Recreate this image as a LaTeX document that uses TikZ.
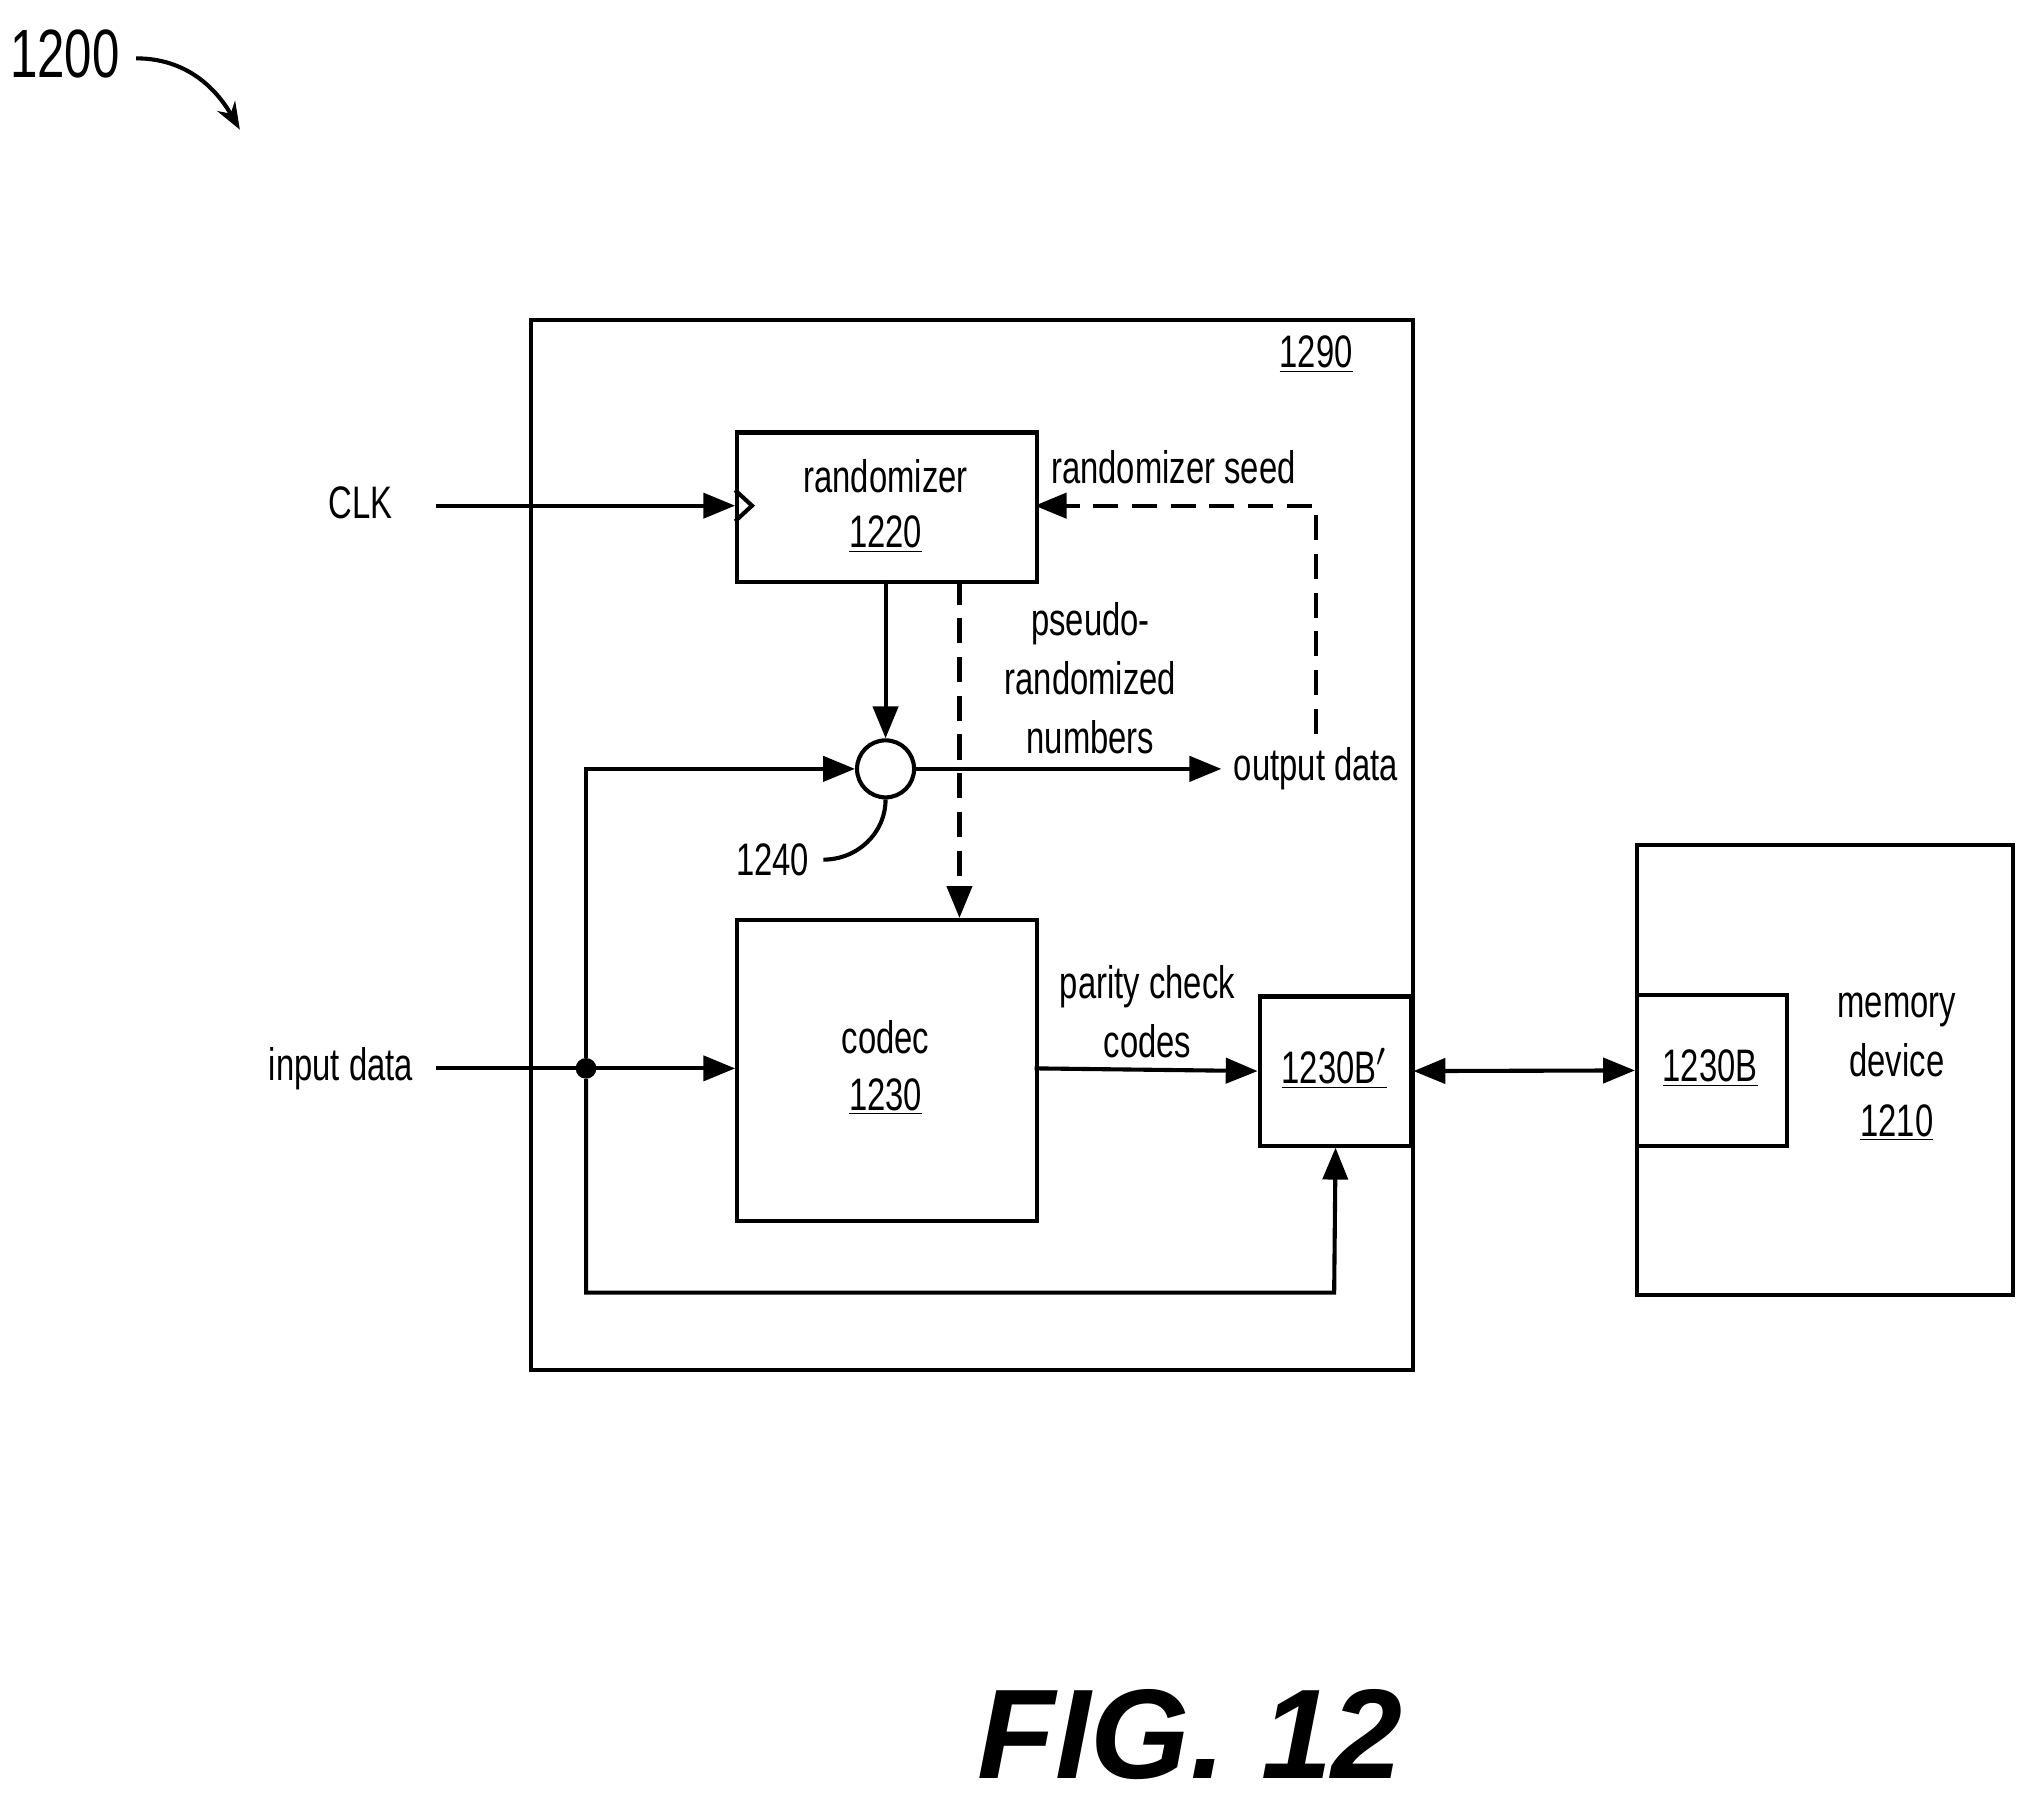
\documentclass[tikz,border=0pt]{standalone}
\usepackage{fontspec}
\setmainfont{Liberation Sans}[FakeStretch=0.72]
\newfontfamily\figfont{Liberation Sans}
\usetikzlibrary{arrows.meta}
\begin{document}
\begin{tikzpicture}[x=0.02cm,y=-0.02cm,
  lbl/.style={font=\fontsize{20}{24}\selectfont,inner sep=0pt,align=center},
  box/.style={draw,line width=1.8pt},
  ln/.style={line width=1.8pt},
  arr/.style={ln,-{Triangle[length=14pt,width=11pt]}},
  dsh/.style={ln,dash pattern=on 11pt off 6pt}]
\useasboundingbox (0,0) rectangle (1568,1390);
\node[lbl,font=\fontsize{30}{34}\selectfont] (n1200) at (50,42) {1200};
\coordinate (c1200) at (185,100);
\draw[ln,-{Stealth[length=12pt]}] (105,45) to[out=0,in=120] (c1200);
\node[box,minimum width=680*0.02cm,minimum height=810*0.02cm,anchor=north west] (outer) at (408,245) {};
\node[lbl] (l1290) at (1015,273) {\underline{1290}};
\node[box,minimum width=231*0.02cm,minimum height=115*0.02cm,anchor=north west] (rand) at (567,332) {};
\node[lbl] (trand) at (683,367) {randomizer};
\node[lbl] (t1220) at (683,412) {\underline{1220}};
\draw[ln] (567,378) -- (580,390) -- (567,402);
\node[lbl] (clk) at (278,388) {CLK};
\coordinate (clkS) at (336,390);
\draw[arr] (clkS) -- (567,390);
\node[lbl] (seed) at (905,360) {randomizer seed};
\node[lbl] (out) at (1015,593) {output data};
\draw[dsh] (1015,566) -- (1015,390) -- (812,390);
\draw[arr] (820,390) -- (798,390);
\node[draw,circle,line width=1.8pt,minimum size=44*0.02cm,inner sep=0pt] (xor) at (683,593) {};
\draw[arr] (683,447) -- (xor.north);
\node[box,minimum width=231*0.02cm,minimum height=232*0.02cm,anchor=north west] (codec) at (567,708) {};
\draw[dsh] (740,447) -- (740,690);
\draw[arr] (740,685) -- (740,708);
\node[lbl] (pr) at (841,523) {pseudo-\\[2pt]randomized\\[2pt]numbers};
\node[fill,circle,inner sep=0pt,minimum size=16*0.02cm] (dot) at (452,824) {};
\draw[arr] (dot) -- (452,593) -- (xor.west);
\draw[arr] (xor.east) -- (942,593);
\node[lbl] (l1240) at (596,663) {1240};
\draw[ln] (635,663) to[out=0,in=-90] (xor.south);
\node[lbl] (tcodec) at (683,800) {codec};
\node[lbl] (t1230) at (683,846) {\underline{1230}};
\node[lbl] (inp) at (263,824) {input data};
\coordinate (inS) at (336,824);
\draw[arr] (inS) -- (567,824);
\node[lbl] (pcc) at (885,780) {parity check\\[2pt]codes};
\node[box,minimum width=117*0.02cm,minimum height=115*0.02cm,anchor=north west] (bp) at (970,767) {};
\node[lbl] (tbp) at (1029,824) {\underline{1230B$'$}};
\draw[arr] (798,824) -- (bp.west);
\draw[arr] (dot) -- (452,997) -- (1029,997) -- (bp.south);
\node[box,minimum width=290*0.02cm,minimum height=347*0.02cm,anchor=north west] (mem) at (1261,650) {};
\node[box,minimum width=116*0.02cm,minimum height=116*0.02cm,anchor=north west] (b) at (1261,766) {};
\node[lbl] (tb) at (1319,824) {\underline{1230B}};
\draw[ln,{Triangle[length=14pt,width=11pt]}-{Triangle[length=14pt,width=11pt]}] (bp.east) -- (b.west);
\node[lbl] (tmem) at (1463,823) {memory\\[2pt]device\\[2pt]\underline{1210}};
\node[inner sep=0pt,font=\figfont\bfseries\itshape\fontsize{56}{62}\selectfont] (fig) at (918,1338) {FIG. 12};
\end{tikzpicture}
\end{document}
